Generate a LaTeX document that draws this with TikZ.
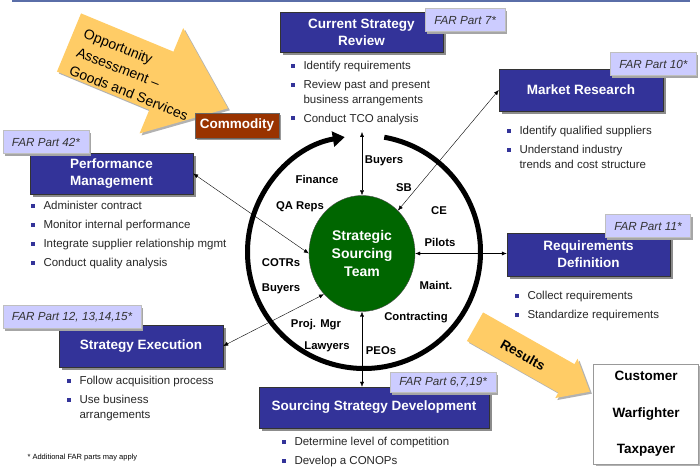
\documentclass[tikz,border=0pt]{standalone}
\usepackage{fontspec}
\setmainfont{Liberation Sans}
\usetikzlibrary{positioning, shapes.geometric, shadows, arrows.meta, calc}
\definecolor{farnavy}{HTML}{333399}
\definecolor{taglilac}{HTML}{CCCCFF}
\definecolor{teamgreen}{HTML}{006600}
\definecolor{commbrown}{HTML}{993300}
\definecolor{arrowgold}{HTML}{FFCC66}
\definecolor{topline}{HTML}{5A6EA8}
\newcommand{\bul}{\makebox[12.5pt][l]{\textcolor{farnavy}{\rule[2pt]{4pt}{4pt}}}}
\newcommand{\cont}{\hspace*{12.5pt}}
\tikzset{
	phase/.style={
		draw=black!80, fill=farnavy, text=white, align=center,
		font=\fontsize{13.5}{17}\selectfont\bfseries,
		minimum width=164pt, minimum height=42pt, inner sep=2pt,
		drop shadow={shadow xshift=3pt, shadow yshift=-3pt, fill=black!45, opacity=1},
	},
	far/.style={
		draw=black!25, fill=taglilac, text=black!80, anchor=south west,
		font=\fontsize{11.7}{14}\selectfont\itshape,
		minimum height=23pt, inner xsep=9pt,
		drop shadow={shadow xshift=2pt, shadow yshift=-2pt, fill=black!35, opacity=1},
	},
	tasks/.style={
		align=left, inner sep=0pt, text=black!85,
		font=\fontsize{11.5}{14.5}\selectfont,
	},
	crew/.style={font=\fontsize{11.3}{13}\selectfont\bfseries},
	link/.style={{Latex[length=5pt,width=4pt]}-{Latex[length=5pt,width=4pt]}, thin},
	fatarrow/.style={fill=arrowgold, drop shadow={shadow xshift=2pt, shadow yshift=-2pt, fill=black!30, opacity=1}},
}

\begin{document}
\begin{tikzpicture}[x=1pt, y=1pt]
	\useasboundingbox (0,0) rectangle (700,470);
	\draw[topline, line width=1.5pt] (12,469) -- (690,469);

	% big arrows
	\begin{scope}[shift={(69,427.5)}, rotate=-22.5]
		\path[fatarrow] (0,31.5) -- (100,31.5) -- (100,57) -- (172,0) -- (100,-57) -- (100,-31.5) -- (0,-31.5) -- cycle;
	\end{scope}
	\node[rotate=-21.5, align=left, font=\fontsize{14}{19.7}\selectfont] (opp) at (136,395.5) {Opportunity\\Assessment --\\Goods and Services};
	\begin{scope}[shift={(475,143.3)}, rotate=-29.5]
		\path[fatarrow] (0,16.4) -- (105,16.4) -- (105,22.6) -- (132,0) -- (105,-22.6) -- (105,-16.4) -- (0,-16.4) -- cycle;
	\end{scope}
	\node[rotate=-29.5, font=\fontsize{13.5}{16}\selectfont\bfseries] (res) at (523,115) {Results};

	\node[draw=black!60, fill=commbrown, text=white, font=\fontsize{13.5}{16}\selectfont\bfseries,
		minimum width=84pt, minimum height=25pt, inner sep=1pt,
		drop shadow={shadow xshift=2pt, shadow yshift=-2pt, fill=black!40, opacity=1}] (comm) at (237,344.5) {Commodity};

	% the team and its ring
	\coordinate (hub) at (364,218);
	\draw[line width=5pt, -{Triangle[length=12pt,width=15pt]}] (hub) ++(80:116.5) arc[start angle=80, end angle=-260.5, radius=116.5];
	\node[ellipse, draw=black!70, fill=teamgreen, text=white, align=center,
		font=\fontsize{14}{18}\selectfont\bfseries,
		minimum width=106pt, minimum height=116pt] (team) at (362,216.5) {Strategic\\Sourcing\\Team};

	\node[crew] (buyerstop) at (384,309) {Buyers};
	\node[crew] (finance) at (317,291) {Finance};
	\node[crew] (sb) at (404,282) {SB};
	\node[crew] (qa) at (300,263) {QA Reps};
	\node[crew] (ce) at (439,259) {CE};
	\node[crew] (pilots) at (440,228) {Pilots};
	\node[crew] (cotrs) at (281,207) {COTRs};
	\node[crew] (maint) at (436,185) {Maint.};
	\node[crew] (buyersleft) at (281,181) {Buyers};
	\node[crew] (contracting) at (416,152) {Contracting};
	\node[crew] (projmgr) at (316,145) {Proj. Mgr};
	\node[crew] (lawyers) at (327,123) {Lawyers};
	\node[crew] (peos) at (381,119) {PEOs};

	% phases
	\node[phase, minimum width=163pt, minimum height=40pt] (csr) at (361.5,438) {Current Strategy\\Review};
	\node[phase] (mr) at (581,380) {Market Research};
	\node[phase, minimum width=163pt, minimum height=41pt] (pm) at (111.5,296.5) {Performance\\Management};
	\node[phase, minimum width=163pt, minimum height=43pt] (rd) at (588.5,215.5) {Requirements\\Definition};
	\node[phase] (se) at (141,124) {Strategy Execution};
	\node[phase, minimum width=230pt, minimum height=41pt] (ssd) at (374,62.5) {Sourcing Strategy Development};

	\node[far] (csrfar) at ([shift={(-18,-20)}]csr.north east) {FAR Part 7*};
	\node[far] (mrfar) at ([shift={(-53,-7)}]mr.north east) {FAR Part 10*};
	\node[far] (pmfar) at ([shift={(-27,-1)}]pm.north west) {FAR Part 42*};
	\node[far] (rdfar) at ([shift={(-65,-5)}]rd.north east) {FAR Part 11*};
	\node[far] (sefar) at ([shift={(-56,-4)}]se.north west) {FAR Part 12, 13,14,15*};
	\node[far, minimum height=20pt] (ssdfar) at ([shift={(-99,-6)}]ssd.north east) {FAR Part 6,7,19*};

	\node[tasks, below right=9pt and 11pt of csr.south west] (csrtasks) {\bul Identify requirements\\[4.5pt]
		\bul Review past and present\\ \cont business arrangements\\[4.5pt]
		\bul Conduct TCO analysis};
	\node[tasks, below right=15pt and 8pt of mr.south west] (mrtasks) {\bul Identify qualified suppliers\\[4.5pt]
		\bul Understand industry\\ \cont trends and cost structure};
	\node[tasks, below right=7pt and 1pt of pm.south west] (pmtasks) {\bul Administer contract\\[4.5pt]
		\bul Monitor internal performance\\[4.5pt]
		\bul Integrate supplier relationship mgmt\\[4.5pt]
		\bul Conduct quality analysis};
	\node[tasks, below right=15pt and 8pt of rd.south west] (rdtasks) {\bul Collect requirements\\[4.5pt]
		\bul Standardize requirements};
	\node[tasks, below right=9pt and 8pt of se.south west] (setasks) {\bul Follow acquisition process\\[4.5pt]
		\bul Use business\\ \cont arrangements};
	\node[tasks, below right=9pt and 23pt of ssd.south west] (ssdtasks) {\bul Determine level of competition\\[4.5pt]
		\bul Develop a CONOPs};

	% links to the team
	\coordinate (csrend) at (362,338);
	\draw[link] (csrend) -- (team.north);
	\draw[link] (mr.west) -- (team);
	\draw[link] (pm.east) -- (team.west);
	\draw[link] (team.east) -- (team.east -| rd.west);
	\draw[link] (se.east) -- (team.227);
	\draw[link] (team.south) -- (team.south |- ssd.north);

	\node[draw=black!40, fill=white, align=center, font=\fontsize{13.5}{36.5}\selectfont\bfseries,
		minimum width=105pt, minimum height=100pt,
		drop shadow={shadow xshift=2pt, shadow yshift=-2pt, fill=black!30, opacity=1}] (who) at (646,56) {Customer\\Warfighter\\Taxpayer};

	\node[anchor=west, font=\fontsize{7.5}{9}\selectfont] (note) at (24,12) {* Additional FAR parts may apply};
\end{tikzpicture}
\end{document}
